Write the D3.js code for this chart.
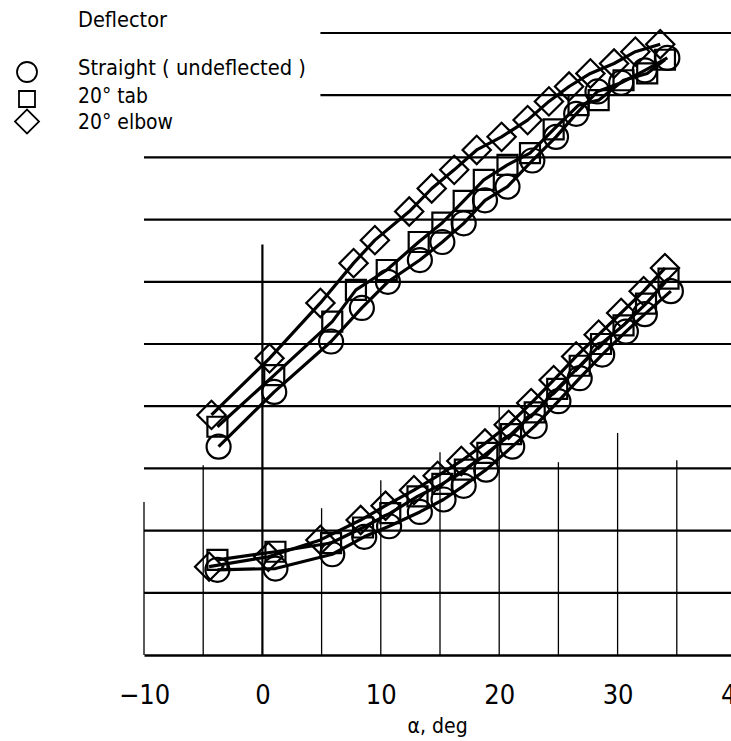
<!DOCTYPE html>
<html><head><meta charset="utf-8">
<script src="https://cdn.jsdelivr.net/npm/d3@7"></script>
<style>body{margin:0;background:#fff}svg{display:block}</style>
</head><body>
<svg id="chart" width="731" height="741"></svg>
<script>
// ---- data (alpha in deg, ordinate in grid units) ----
const xTicks = [-10, 0, 10, 20, 30, 40];
const xTickLabels = ["\u221210", "0", "10", "20", "30", "40"];
const xLabel = "\u03b1,  deg";
const legendTitle = "Deflector";
const seriesNames = ["Straight ( undeflected )", "20\u00b0 tab", "20\u00b0 elbow"];

// upper group
const upStraightA = [-3.7, 1.0, 5.8, 8.4, 10.6, 13.3, 15.2, 17.0, 18.8, 20.7, 22.8, 24.8, 26.5, 28.3, 30.3, 32.3, 34.2];
const upStraightV = [3.35, 4.23, 5.04, 5.58, 6.0, 6.35, 6.64, 6.94, 7.31, 7.53, 7.95, 8.33, 8.7, 9.06, 9.2, 9.4, 9.6];
const upTabA = [-3.8, 1.0, 5.9, 7.9, 10.5, 13.2, 15.2, 17.0, 18.7, 20.7, 22.6, 24.6, 26.7, 28.4, 30.5, 32.5, 34.0];
const upTabV = [3.67, 4.5, 5.36, 5.87, 6.19, 6.64, 6.95, 7.3, 7.64, 7.88, 8.07, 8.45, 8.84, 8.92, 9.24, 9.35, 9.57];
const upElbowA = [-4.3, 0.6, 4.9, 7.7, 9.5, 12.4, 14.3, 16.2, 18.1, 20.2, 22.4, 24.2, 25.9, 27.7, 29.7, 31.5, 33.6];
const upElbowV = [3.86, 4.77, 5.66, 6.3, 6.67, 7.13, 7.5, 7.8, 8.12, 8.33, 8.6, 8.9, 9.14, 9.35, 9.51, 9.7, 9.82];

// lower group
const loStraightA = [-3.8, 1.1, 5.9, 8.6, 10.7, 13.3, 15.3, 17.0, 18.9, 21.1, 23.0, 25.0, 26.8, 28.7, 30.7, 32.3, 34.5];
const loStraightV = [1.37, 1.39, 1.62, 1.9, 2.07, 2.3, 2.5, 2.72, 2.98, 3.35, 3.68, 4.08, 4.45, 4.83, 5.2, 5.48, 5.85];
const loTabA = [-3.8, 1.1, 5.8, 8.5, 10.8, 13.1, 15.2, 17.1, 19.0, 21.0, 23.0, 24.9, 26.8, 28.6, 30.5, 32.4, 34.3];
const loTabV = [1.53, 1.66, 1.8, 2.05, 2.28, 2.55, 2.75, 2.98, 3.25, 3.55, 3.9, 4.28, 4.65, 5.0, 5.3, 5.65, 6.05];
const loElbowA = [-4.5, 0.5, 4.9, 8.3, 10.4, 12.8, 14.8, 16.8, 18.8, 20.8, 22.7, 24.6, 26.5, 28.4, 30.3, 32.2, 34.0];
const loElbowV = [1.42, 1.58, 1.85, 2.17, 2.4, 2.65, 2.88, 3.12, 3.4, 3.7, 4.05, 4.42, 4.8, 5.15, 5.5, 5.85, 6.22];

// grid
const hGridValues = [1, 2, 3, 4, 5, 6, 7, 8, 9, 10];
const vGridValues = [-10, -5, 0, 5, 10, 15, 20, 25, 30, 35];
const vGridTops = [2.46, 3.05, 6.6, 2.36, 2.81, 3.26, 4.0, 3.1, 3.57, 3.13];

// ---- drawing ----
const svg = d3.select("#chart");
const x = d3.scaleLinear().domain([-10, 40]).range([144, 736]);
const y = d3.scaleLinear().domain([0, 10]).range([655, 33]);
const FONT = "'Liberation Sans Narrow','DejaVu Sans Condensed','Liberation Sans',Arial,sans-serif";

// horizontal grid
svg.append("g").selectAll("line").data(hGridValues).join("line")
  .attr("x1", d => x(d >= 9 ? 4.9 : -10)).attr("x2", x(40))
  .attr("y1", d => y(d)).attr("y2", d => y(d))
  .attr("stroke", "#000").attr("stroke-width", 2.2);

// vertical grid
svg.append("g").selectAll("line").data(vGridValues).join("line")
  .attr("x1", d => x(d)).attr("x2", d => x(d))
  .attr("y1", y(0)).attr("y2", (d, i) => y(vGridTops[i]))
  .attr("stroke", "#000").attr("stroke-width", d => d === 0 ? 2.2 : 1.3);

// x axis
const xAxis = svg.append("g").attr("transform", `translate(0,${y(0)})`)
  .call(d3.axisBottom(x).tickValues(xTicks).tickSize(0)
    .tickFormat((d, i) => xTickLabels[i]));
xAxis.select(".domain").attr("stroke", "#000").attr("stroke-width", 2.4);
xAxis.selectAll("text").attr("font-family", FONT).attr("font-size", 27)
  .attr("fill", "#000").attr("dy", 0).attr("y", 49);

svg.append("text").attr("x", x(14.8)).attr("y", 733)
  .attr("text-anchor", "middle").attr("font-family", FONT).attr("font-size", 21)
  .attr("fill", "#000").text(xLabel);

// series
const groups = [
  [upStraightA, upStraightV, "circle"], [upTabA, upTabV, "square"], [upElbowA, upElbowV, "diamond"],
  [loStraightA, loStraightV, "circle"], [loTabA, loTabV, "square"], [loElbowA, loElbowV, "diamond"]
];
const line = d3.line().x(d => x(d[0])).y(d => y(d[1]));
const symFor = {
  circle: d3.symbol(d3.symbolCircle, Math.PI * 12 * 12),
  square: d3.symbol(d3.symbolSquare, 20 * 20),
  diamond: d3.symbol(d3.symbolSquare, 20 * 20)
};
groups.forEach(([A, V]) => {
  const pts = A.map((a, i) => [a, V[i]]);
  svg.append("path").datum(pts).attr("d", line)
    .attr("fill", "none").attr("stroke", "#000").attr("stroke-width", 3.2)
    .attr("stroke-linejoin", "round");
});
groups.forEach(([A, V, s]) => {
  const pts = A.map((a, i) => [a, V[i]]);
  svg.append("g").selectAll("path").data(pts).join("path")
    .attr("d", symFor[s])
    .attr("transform", d => `translate(${x(d[0])},${y(d[1])})${s === "diamond" ? " rotate(45)" : ""}`)
    .attr("fill", "none").attr("stroke", "#000").attr("stroke-width", 2.2);
});

// legend
const leg = svg.append("g");
leg.append("text").attr("x", 78).attr("y", 27).attr("font-family", FONT).attr("font-size", 21)
  .attr("textLength", 89).attr("lengthAdjust", "spacingAndGlyphs").text(legendTitle);
const legY = [75, 103, 129];
const legW = [228, 70, 95];
const legSym = [
  d3.symbol(d3.symbolCircle, Math.PI * 10 * 10),
  d3.symbol(d3.symbolSquare, 16 * 16),
  d3.symbol(d3.symbolSquare, 17 * 17)
];
const legSymY = [72, 99, 121.5];
seriesNames.forEach((n, i) => {
  leg.append("path").attr("d", legSym[i])
    .attr("transform", `translate(27,${legSymY[i]})${i === 2 ? " rotate(45)" : ""}`)
    .attr("fill", "none").attr("stroke", "#000").attr("stroke-width", 1.8);
  leg.append("text").attr("x", 78).attr("y", legY[i]).attr("font-family", FONT).attr("font-size", 21)
    .attr("textLength", legW[i]).attr("lengthAdjust", "spacingAndGlyphs").text(n);
});
</script>
</body></html>
